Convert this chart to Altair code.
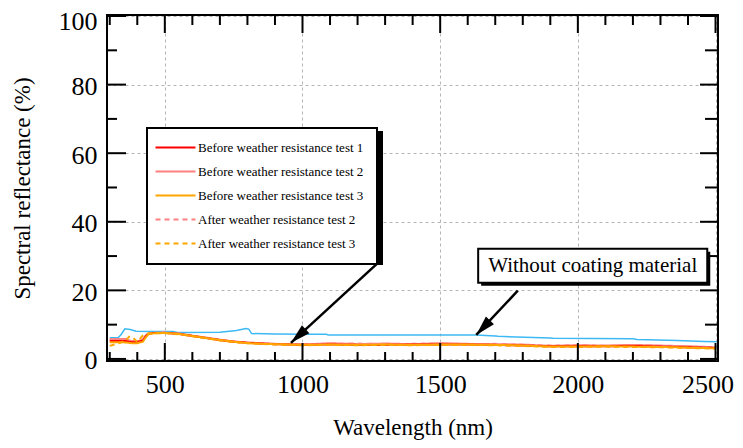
import math
import altair as alt
import pandas as pd

# ---------------- data ----------------
wavelength = [300, 320, 340, 360, 370, 380, 400, 420, 430, 440, 460, 500, 550, 600, 650, 700,
              750, 800, 850, 900, 950, 1000, 1100, 1200, 1300, 1400, 1500, 1600, 1700, 1800,
              1900, 2000, 2100, 2200, 2300, 2400, 2500]

before_test_1 = [5.2, 5.2, 5.2, 5.2, 5.0, 4.9, 4.9, 5.3, 6.5, 7.3, 7.6, 7.6, 7.3, 6.7, 6.1, 5.5,
                 5.0, 4.7, 4.5, 4.3, 4.2, 4.1, 4.2, 4.1, 4.1, 4.2, 4.2, 4.2, 4.1, 3.9,
                 3.7, 3.7, 3.7, 3.8, 3.6, 3.4, 3.2]
before_test_2 = [5.8, 5.8, 5.8, 5.8, 5.4, 5.2, 5.2, 5.6, 6.8, 7.4, 7.6, 7.7, 7.4, 6.8, 6.2, 5.6,
                 5.1, 4.8, 4.6, 4.4, 4.3, 4.2, 4.6, 4.3, 4.5, 4.3, 4.6, 4.4, 4.3, 4.2,
                 3.8, 4.0, 3.9, 4.1, 3.9, 3.7, 3.4]
before_test_3 = [4.9, 4.9, 4.9, 4.8, 4.7, 4.6, 4.6, 5.0, 6.2, 7.2, 7.5, 7.6, 7.3, 6.7, 6.1, 5.5,
                 5.0, 4.6, 4.4, 4.3, 4.2, 4.1, 4.2, 4.1, 4.2, 4.1, 4.2, 4.2, 4.1, 3.9,
                 3.6, 3.6, 3.7, 3.6, 3.5, 3.3, 3.1]
after_test_2 = [5.5, 5.6, 5.7, 5.6, 5.3, 5.1, 5.1, 5.5, 6.6, 7.3, 7.6, 7.7, 7.4, 6.8, 6.2, 5.6,
                5.1, 4.8, 4.5, 4.4, 4.3, 4.2, 4.4, 4.5, 4.3, 4.4, 4.5, 4.3, 4.4, 4.1,
                3.9, 4.0, 3.8, 4.0, 3.8, 3.6, 3.3]
after_test_3 = [3.8, 4.3, 4.8, 5.5, 6.5, 6.5, 5.0, 6.8, 7.2, 7.4, 7.5, 7.5, 7.2, 6.6, 6.0, 5.4,
                4.9, 4.6, 4.4, 4.2, 4.1, 4.0, 4.1, 4.0, 4.1, 4.0, 4.1, 4.1, 4.0, 3.8,
                3.5, 3.5, 3.6, 3.5, 3.4, 3.2, 3.0]

bare_wavelength = [300, 330, 340, 355, 375, 395, 450, 530, 545, 700, 760, 795, 805, 815, 900,
                   1000, 1085, 1095, 1300, 1630, 1700, 1710, 1900, 1910, 2200, 2215, 2360, 2460, 2505]
bare_reflectance = [6.2, 6.2, 7.0, 8.8, 8.6, 8.1, 8.0, 8.0, 7.7, 7.8, 8.3, 8.9, 8.7, 7.4, 7.3,
                    7.2, 7.2, 7.0, 7.0, 7.0, 6.7, 6.6, 6.1, 6.0, 5.9, 5.7, 5.4, 5.1, 5.0]

series_names = ["Before weather resistance test 1", "Before weather resistance test 2",
                "Before weather resistance test 3", "After weather resistance test 2",
                "After weather resistance test 3"]
series_values = [before_test_1, before_test_2, before_test_3, after_test_2, after_test_3]
series_colors = ["#FF0000", "#FF8080", "#FFA500", "#FF8080", "#FFA500"]
series_dashes = [[1, 0], [1, 0], [1, 0], [5, 4], [5, 4]]
draw_order = [1, 3, 0, 4, 2]

x_ticks_major = [500, 1000, 1500, 2000, 2500]
x_ticks_minor = [300, 400, 600, 700, 800, 900, 1100, 1200, 1300, 1400, 1600, 1700, 1800,
                 1900, 2100, 2200, 2300, 2400]
y_ticks_major = [0, 20, 40, 60, 80, 100]
y_ticks_minor = [10, 30, 50, 70, 90]

note_text = ["Without coating material"]
note_box_wl = [1638]
note_box_wl2 = [2470]
note_box_val = [22.2]
note_box_val2 = [32.1]
note_text_wl = [2054]
note_text_val = [27.1]

arrow_from_wl = [1278, 1782]
arrow_from_val = [28.3, 19.9]
arrow_to_wl = [958, 1631]
arrow_to_val = [4.7, 7.0]

# ---------------- layout ----------------
W, H = 611, 346
X_DOMAIN = [290, 2509]
Y_DOMAIN = [-0.6, 100.3]
FONT = "Liberation Serif"

xscale = alt.Scale(domain=X_DOMAIN, nice=False, zero=False)
yscale = alt.Scale(domain=Y_DOMAIN, nice=False, zero=False)
xaxis = alt.Axis(values=x_ticks_major, format="d", title="Wavelength (nm)", grid=True,
                 gridDash=[3, 3], gridColor="#b5b5b5", gridWidth=1, ticks=False, domain=False,
                 labelFont=FONT, labelFontSize=26, labelColor="black", labelPadding=10,
                 labelOffset={"expr": "datum.value == 2500 ? -8 : 0"},
                 titleFont=FONT, titleFontSize=23, titleFontWeight="normal", titleColor="black",
                 titlePadding=19, labelFlush=False)
yaxis = alt.Axis(values=y_ticks_major, format="d", title="Spectral reflectance (%)", grid=True,
                 gridDash=[3, 3], gridColor="#b5b5b5", gridWidth=1, ticks=False, domain=False,
                 labelFont=FONT, labelFontSize=26, labelColor="black", labelPadding=10,
                 labelOffset={"expr": "datum.value == 100 ? 5 : 2"},
                 titleFont=FONT, titleFontSize=23, titleFontWeight="normal", titleColor="black",
                 titlePadding=24, labelFlush=False)


def X(field):
    return alt.X(f"{field}:Q", scale=xscale, axis=xaxis)


def Y(field):
    return alt.Y(f"{field}:Q", scale=yscale, axis=yaxis)


rows = []
for i in draw_order:
    for w, v in zip(wavelength, series_values[i]):
        rows.append({"wl": w, "val": v, "series": series_names[i]})
df = pd.DataFrame(rows)

bare_df = pd.DataFrame({"wl": bare_wavelength, "val": bare_reflectance})

legend = alt.Legend(title=None, orient="none", legendX=40, legendY=113,
                    symbolType="M-4,0L4,0", symbolSize=100, symbolStrokeWidth=2,
                    symbolOffset=9, labelOffset=16, labelFont=FONT, labelFontSize=13,
                    labelColor="black", labelLimit=400, strokeColor="black",
                    fillColor="white", padding=13, rowPadding=10)

lines = alt.Chart(df).mark_line(strokeWidth=2).encode(
    x=X("wl"), y=Y("val"),
    color=alt.Color("series:N", scale=alt.Scale(domain=series_names, range=series_colors),
                    legend=legend),
    strokeDash=alt.StrokeDash("series:N", scale=alt.Scale(domain=series_names, range=series_dashes),
                              legend=legend),
)

bare = alt.Chart(bare_df).mark_line(strokeWidth=1.5, color="#3CB9F4").encode(
    x=X("wl"), y=Y("val"))

# inward ticks on all four sides
xmaj = pd.DataFrame({"wl": x_ticks_major})
xmin = pd.DataFrame({"wl": x_ticks_minor})
ymaj = pd.DataFrame({"val": y_ticks_major})
ymin = pd.DataFrame({"val": y_ticks_minor})
tick_style = dict(color="black", strokeWidth=2)
ticks = [
    alt.Chart(xmaj).mark_rule(**tick_style).encode(x=X("wl"), y=alt.value(H), y2=alt.value(H - 18)),
    alt.Chart(xmaj).mark_rule(**tick_style).encode(x=X("wl"), y=alt.value(0), y2=alt.value(18)),
    alt.Chart(xmin).mark_rule(**tick_style).encode(x=X("wl"), y=alt.value(H), y2=alt.value(H - 9)),
    alt.Chart(xmin).mark_rule(**tick_style).encode(x=X("wl"), y=alt.value(0), y2=alt.value(10)),
    alt.Chart(ymaj).mark_rule(**tick_style).encode(y=Y("val"), x=alt.value(0), x2=alt.value(19)),
    alt.Chart(ymaj).mark_rule(**tick_style).encode(y=Y("val"), x=alt.value(W), x2=alt.value(W - 18)),
    alt.Chart(ymin).mark_rule(**tick_style).encode(y=Y("val"), x=alt.value(0), x2=alt.value(10)),
    alt.Chart(ymin).mark_rule(**tick_style).encode(y=Y("val"), x=alt.value(W), x2=alt.value(W - 13)),
]

# annotation box
note_df = pd.DataFrame({"wl": note_box_wl, "wl2": note_box_wl2, "val": note_box_val,
                        "val2": note_box_val2})
note_shadow = alt.Chart(note_df).mark_rect(color="black", xOffset=3, x2Offset=3, yOffset=3,
                                           y2Offset=3).encode(
    x=X("wl"), x2="wl2:Q", y=Y("val"), y2="val2:Q")
note_box = alt.Chart(note_df).mark_rect(fill="white", stroke="black", strokeWidth=2).encode(
    x=X("wl"), x2="wl2:Q", y=Y("val"), y2="val2:Q")
note_label = alt.Chart(pd.DataFrame({"wl": note_text_wl, "val": note_text_val, "t": note_text})).mark_text(
    font=FONT, fontSize=21, color="black").encode(x=X("wl"), y=Y("val"), text="t:N")

# legend shadow
legend_shadow = alt.Chart(pd.DataFrame({"a": [0]})).mark_rect(color="black").encode(
    x=alt.value(43), x2=alt.value(276), y=alt.value(116), y2=alt.value(250))

# arrows
px_x = W / (X_DOMAIN[1] - X_DOMAIN[0])
px_y = H / (Y_DOMAIN[1] - Y_DOMAIN[0])
angles = []
for fw, fv, tw, tv in zip(arrow_from_wl, arrow_from_val, arrow_to_wl, arrow_to_val):
    dx = (tw - fw) * px_x
    dy = -(tv - fv) * px_y
    angles.append(math.degrees(math.atan2(dx, -dy)) % 360)
arrow_df = pd.DataFrame({"wl": arrow_to_wl, "val": arrow_to_val, "wl_from": arrow_from_wl,
                         "val_from": arrow_from_val, "angle": angles})
arrow_shaft = alt.Chart(arrow_df).mark_rule(color="black", strokeWidth=2.5).encode(
    x=X("wl_from"), y=Y("val_from"), x2="wl:Q", y2="val:Q")
arrow_head = alt.Chart(arrow_df).mark_point(shape="M0,0L-0.55,2L0.55,2Z", filled=True,
                                            color="black", opacity=1, size=400).encode(
    x=X("wl"), y=Y("val"), angle=alt.Angle("angle:Q", scale=None))

chart = alt.layer(
    bare, lines, *ticks, legend_shadow, note_shadow, note_box, note_label, arrow_shaft, arrow_head
).properties(
    width=W, height=H,
    padding={"left": 99, "top": 7, "right": 17, "bottom": 79},
    autosize=alt.AutoSizeParams(type="none"),
).configure(font=FONT).configure_view(stroke="black", strokeWidth=2).configure_legend(
    strokeWidth=2).configure_axis(labelFont=FONT, titleFont=FONT)

chart.save("out.html", embed_options={"renderer": "svg", "actions": False})
